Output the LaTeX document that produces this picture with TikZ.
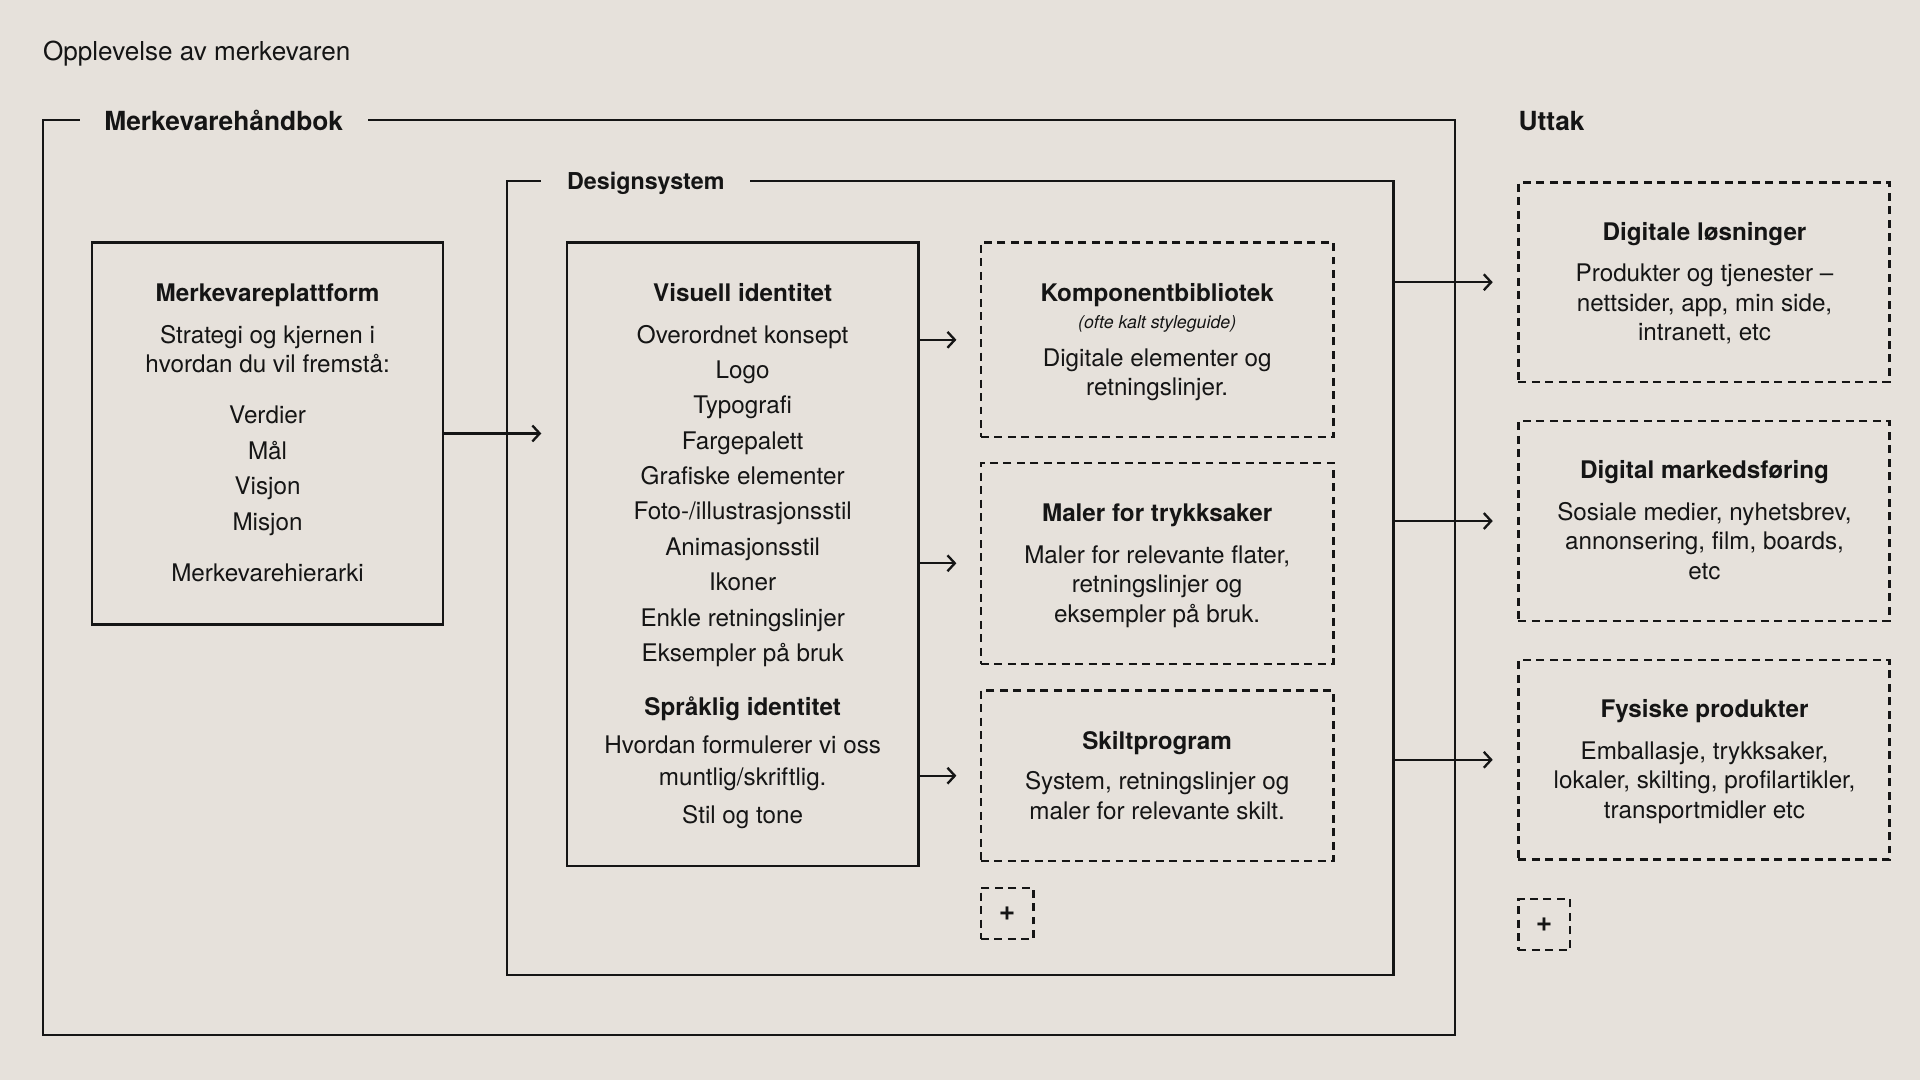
\documentclass[tikz,border=0pt]{standalone}
\usepackage{fontspec}
\setmainfont{TeX Gyre Heros}
\usetikzlibrary{arrows.meta}
\definecolor{bg}{HTML}{E6E1DB}
\definecolor{ink}{HTML}{151515}
\begin{document}
\begin{tikzpicture}[x=1pt,y=-1pt,
  every node/.style={text=ink, inner sep=0pt},
  solidbox/.style={draw=ink, line width=1.9pt, rectangle},
  dashbox/.style={draw=ink, line width=1.9pt, rectangle, dash pattern=on 6.5pt off 4.5pt},
  framebox/.style={draw=ink, line width=1.9pt, rectangle},
  arr/.style={draw=ink, line width=1.9pt, -{Straight Barb[length=6pt,width=13pt]}},
  body/.style={font=\fontsize{19.8}{24}\selectfont, anchor=mid, yshift=-4.5pt},
  ttl/.style={font=\fontsize{19.8}{24}\selectfont\bfseries, anchor=mid, yshift=-4.5pt},
  hdr/.style={font=\fontsize{21.5}{26}\selectfont\bfseries},
  smallit/.style={font=\fontsize{14.5}{17}\selectfont\itshape, anchor=mid, yshift=-4.5pt},
  plus/.style={font=\fontsize{23}{23}\selectfont\bfseries},
]
\fill[bg] (0,0) rectangle (1568,882);
\useasboundingbox (0,0) rectangle (1568,882);

% title
\node[font=\fontsize{21.3}{26}\selectfont, anchor=mid west, yshift=-4.5pt] (title) at (35,42) {Opplevelse av merkevaren};

% frames
\node[framebox, minimum width=1153pt, minimum height=747pt] (mh) at (611.5,471.5) {};
\node[hdr, fill=bg, inner xsep=20pt, inner ysep=4pt, anchor=west] (mhT) at (65,98.5) {Merkevarehåndbok};
\node[framebox, minimum width=724pt, minimum height=648pt] (ds) at (776,472) {};
\node[font=\fontsize{19}{24}\selectfont\bfseries, fill=bg, inner xsep=21pt, inner ysep=4pt, anchor=west] (dsT) at (442,149.5) {Designsystem};
\node[hdr, anchor=west] (ut) at (1240,98.5) {Uttak};

% Merkevareplattform
\node[solidbox, minimum width=287pt, minimum height=312pt] (pl) at (218.5,354) {};
\node[ttl] (plT) at (218.5,239) {Merkevareplattform};
\node[body] (pl1) at (218.5,273) {Strategi og kjernen i};
\node[body] (pl2) at (218.5,297) {hvordan du vil fremstå:};
\node[body] (pl3) at (218.5,339) {Verdier};
\node[body] (pl4) at (218.5,368) {Mål};
\node[body] (pl5) at (218.5,397) {Visjon};
\node[body] (pl6) at (218.5,426) {Misjon};
\node[body] (pl7) at (218.5,468) {Merkevarehierarki};

% Visuell identitet
\node[solidbox, minimum width=287pt, minimum height=509pt] (vi) at (606.5,452.5) {};
\node[ttl] (viT) at (606.5,239) {Visuell identitet};
\foreach \t [count=\i] in {Overordnet konsept, Logo, Typografi, Fargepalett, Grafiske elementer, Foto-/illustrasjonsstil, Animasjonsstil, Ikoner, Enkle retningslinjer, Eksempler på bruk}
  \node[body] (vi\i) at (606.5,{273+28.9*(\i-1)}) {\t};
\node[ttl] (spT) at (606.5,577) {Språklig identitet};
\node[body] (sp1) at (606.5,608) {Hvordan formulerer vi oss};
\node[body] (sp2) at (606.5,634) {muntlig/skriftlig.};
\node[body] (sp3) at (606.5,665) {Stil og tone};

% middle dashed boxes
\node[dashbox, minimum width=288pt, minimum height=159pt] (kb) at (945,277.5) {};
\node[ttl] (kbT) at (945,239) {Komponentbibliotek};
\node[smallit] (kbS) at (945,261) {(ofte kalt styleguide)};
\node[body] (kb1) at (945,292) {Digitale elementer og};
\node[body] (kb2) at (945,316) {retningslinjer.};

\node[dashbox, minimum width=288pt, minimum height=164pt] (mt) at (945,460) {};
\node[ttl] (mtT) at (945,419) {Maler for trykksaker};
\node[body] (mt1) at (945,453) {Maler for relevante flater,};
\node[body] (mt2) at (945,477) {retningslinjer og};
\node[body] (mt3) at (945,501) {eksempler på bruk.};

\node[dashbox, minimum width=288pt, minimum height=139pt] (sk) at (945,633.5) {};
\node[ttl] (skT) at (945,605) {Skiltprogram};
\node[body] (sk1) at (945,638) {System, retningslinjer og};
\node[body] (sk2) at (945,662) {maler for relevante skilt.};

\node[dashbox, minimum width=43pt, minimum height=42pt] (p1) at (822.5,746) {};
\node[plus] (p1t) at (p1.center) {+};

% right dashed boxes
\node[dashbox, minimum width=303pt, minimum height=163pt] (dl) at (1391.5,230.5) {};
\node[ttl] (dlT) at (1392,189) {Digitale løsninger};
\node[body] (dl1) at (1392,223) {Produkter og tjenester –};
\node[body] (dl2) at (1392,247) {nettsider, app, min side,};
\node[body] (dl3) at (1392,271) {intranett, etc};

\node[dashbox, minimum width=303pt, minimum height=163pt] (dm) at (1391.5,425.5) {};
\node[ttl] (dmT) at (1392,384) {Digital markedsføring};
\node[body] (dm1) at (1392,418) {Sosiale medier, nyhetsbrev,};
\node[body] (dm2) at (1392,442) {annonsering, film, boards,};
\node[body] (dm3) at (1392,466) {etc};

\node[dashbox, minimum width=303pt, minimum height=163pt] (fp) at (1391.5,620.5) {};
\node[ttl] (fpT) at (1392,579) {Fysiske produkter};
\node[body] (fp1) at (1392,613) {Emballasje, trykksaker,};
\node[body] (fp2) at (1392,637) {lokaler, skilting, profilartikler,};
\node[body] (fp3) at (1392,661) {transportmidler etc};

\node[dashbox, minimum width=42pt, minimum height=42pt] (p2) at (1261,755) {};
\node[plus] (p2t) at (p2.center) {+};

% arrows
\coordinate (a0) at ([xshift=-20pt]vi.west);
\draw[arr] (pl.east) -- (a0 |- pl.east);
\draw[arr] (vi.east |- kb.west) -- ([xshift=-19pt]kb.west);
\draw[arr] (vi.east |- mt.west) -- ([xshift=-19pt]mt.west);
\draw[arr] (vi.east |- sk.west) -- ([xshift=-19pt]sk.west);
\draw[arr] (ds.east |- dl.west) -- ([xshift=-20pt]dl.west);
\draw[arr] (ds.east |- dm.west) -- ([xshift=-20pt]dm.west);
\draw[arr] (ds.east |- fp.west) -- ([xshift=-20pt]fp.west);
\end{tikzpicture}
\end{document}
